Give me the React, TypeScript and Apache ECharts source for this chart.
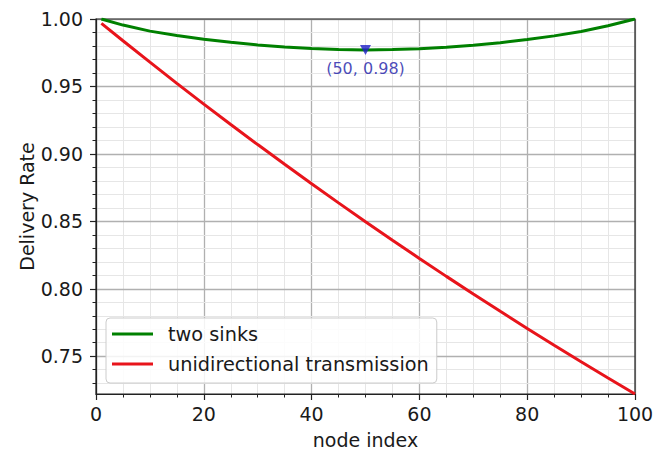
import React, { useEffect, useRef } from "react";
import * as echarts from "echarts";

const nodeIndex = [1, 5, 10, 15, 20, 25, 30, 35, 40, 45, 50, 55, 60, 65, 70, 75, 80, 85, 90, 95, 100];
const twoSinks = [1.0, 0.9955, 0.991, 0.9877, 0.985, 0.9827, 0.9808, 0.9793, 0.9781, 0.9774, 0.9771, 0.9773, 0.9779, 0.979, 0.9805, 0.9824, 0.9848, 0.9875, 0.9907, 0.995, 1.0];
const unidirectional = [0.9968, 0.9839, 0.968, 0.9523, 0.9369, 0.9218, 0.9069, 0.8923, 0.8779, 0.8637, 0.8497, 0.836, 0.8225, 0.8092, 0.7961, 0.7833, 0.7706, 0.7582, 0.7459, 0.7339, 0.722];
const seriesNames = ["two sinks", "unidirectional transmission"];
const yMajorTicks = [0.75, 0.8, 0.85, 0.9, 0.95, 1.0];
const minPoint = [50, 0.9771];

const Y_MIN = 0.722;
const Y_MAX = 1.0;
const FONT = "DejaVu Sans";
const TEXT = "#1a1a1a";

export default function App() {
  const ref = useRef<HTMLDivElement>(null);
  useEffect(() => {
    if (!ref.current) return;
    const chart = echarts.init(ref.current, undefined, { renderer: "svg" });
    const yMinor: number[] = [];
    for (let i = 73; i < 100; i++) {
      if (i % 5 !== 0) yMinor.push(i / 100);
    }
    const toPairs = (ys: number[]) => nodeIndex.map((x, i) => [x, ys[i]]);
    chart.setOption({
      animation: false,
      textStyle: { fontFamily: FONT },
      grid: {
        left: 96,
        right: 35,
        top: 19,
        bottom: 59,
        show: true,
        borderColor: "#222",
        borderWidth: 1.2,
        backgroundColor: "transparent",
        z: 3,
      },
      legend: {
        data: seriesNames.map((n) => ({ name: n, icon: "rect" })),
        orient: "vertical",
        left: 106,
        top: 318,
        itemWidth: 41,
        itemHeight: 3,
        itemGap: 10,
        padding: [6, 8, 9, 6],
        backgroundColor: "rgba(255,255,255,0.85)",
        borderColor: "#cccccc",
        borderWidth: 1,
        borderRadius: 4,
        selectedMode: false,
        textStyle: {
          fontFamily: FONT,
          fontSize: 19.3,
          color: TEXT,
          lineHeight: 20,
          padding: [0, 0, 0, 10],
        },
        z: 10,
      },
      xAxis: {
        type: "value",
        min: 0,
        max: 100,
        interval: 20,
        name: "node index",
        nameLocation: "middle",
        nameGap: 36,
        nameMoveOverlap: false,
        nameTextStyle: { fontFamily: FONT, fontSize: 19, color: TEXT },
        axisLine: { show: true, lineStyle: { color: "#222", width: 1.2 } },
        axisTick: { show: true, inside: false, length: 6, lineStyle: { color: "#222", width: 1.2 } },
        minorTick: { show: true, splitNumber: 4, length: 3.5, lineStyle: { color: "#222", width: 1 } },
        axisLabel: { fontFamily: FONT, fontSize: 19, color: TEXT, margin: 10 },
        splitLine: { show: true, lineStyle: { color: "#b0b0b0", width: 1.3 } },
        minorSplitLine: { show: true, lineStyle: { color: "#e6e6e6", width: 1 } },
      },
      yAxis: [
        {
          type: "value",
          position: "left",
          min: Y_MIN,
          max: Y_MAX,
          name: "Delivery Rate",
          nameLocation: "middle",
          nameGap: 60,
          nameMoveOverlap: false,
          nameTextStyle: { fontFamily: FONT, fontSize: 19, color: TEXT },
          axisLine: { show: true, lineStyle: { color: "#222", width: 1.2 } },
          axisTick: {
            show: true,
            inside: false,
            length: 6,
            customValues: yMajorTicks,
            lineStyle: { color: "#222", width: 1.2 },
          },
          axisLabel: {
            fontFamily: FONT,
            fontSize: 19,
            color: TEXT,
            margin: 13,
            customValues: yMajorTicks,
            formatter: (v: number) => v.toFixed(2),
          },
          splitLine: { show: true, lineStyle: { color: "#b0b0b0", width: 1.3 } },
          z: 2,
        },
        {
          type: "value",
          position: "left",
          min: Y_MIN,
          max: Y_MAX,
          axisLine: { show: false },
          axisTick: {
            show: true,
            inside: false,
            length: 3.5,
            customValues: yMinor,
            lineStyle: { color: "#222", width: 1 },
          },
          axisLabel: { show: false },
          splitLine: { show: true, lineStyle: { color: "#e6e6e6", width: 1 } },
          z: 1,
        },
      ],
      series: [
        {
          name: seriesNames[0],
          type: "line",
          data: toPairs(twoSinks),
          showSymbol: false,
          symbol: "none",
          lineStyle: { color: "#008000", width: 3 },
          itemStyle: { color: "#008000" },
          z: 5,
        },
        {
          name: seriesNames[1],
          type: "line",
          data: toPairs(unidirectional),
          showSymbol: false,
          symbol: "none",
          lineStyle: { color: "#e8141b", width: 3 },
          itemStyle: { color: "#e8141b" },
          z: 5,
        },
        {
          name: "min",
          type: "scatter",
          data: [minPoint],
          symbol: "triangle",
          symbolRotate: 180,
          symbolSize: [11, 10],
          itemStyle: { color: "#1f1fc8" },
          label: {
            show: true,
            position: "bottom",
            distance: 6,
            fontFamily: FONT,
            fontSize: 16,
            color: "#1a1aa8",
            formatter: (p: any) => `(${p.value[0]}, ${p.value[1].toFixed(2)})`,
          },
          z: 6,
        },
      ],
    });
    return () => chart.dispose();
  }, []);
  return (
    <div
      ref={ref}
      style={{ position: "absolute", left: 0, top: 0, width: 670, height: 454, background: "#fff" }}
    />
  );
}
